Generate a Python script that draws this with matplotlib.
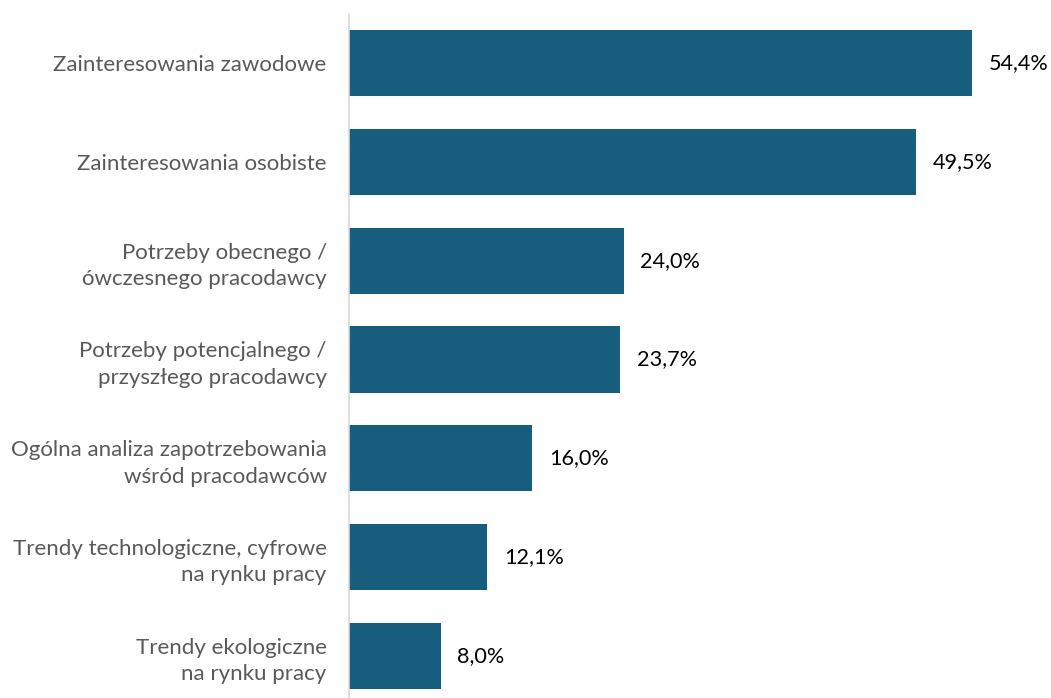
import matplotlib
matplotlib.use("Agg")
import matplotlib.pyplot as plt

categories = [
    "Zainteresowania zawodowe",
    "Zainteresowania osobiste",
    "Potrzeby obecnego /\nówczesnego pracodawcy",
    "Potrzeby potencjalnego /\nprzyszłego pracodawcy",
    "Ogólna analiza zapotrzebowania\nwśród pracodawców",
    "Trendy technologiczne, cyfrowe\nna rynku pracy",
    "Trendy ekologiczne\nna rynku pracy",
]
values = [54.4, 49.5, 24.0, 23.7, 16.0, 12.1, 8.0]
value_labels = ["54,4%", "49,5%", "24,0%", "23,7%", "16,0%", "12,1%", "8,0%"]

plt.rcParams['font.family'] = ['Lato', 'DejaVu Sans']

fig = plt.figure(figsize=(10.51, 6.98), dpi=100)
ax = fig.add_axes([0.332, -0.01, 0.6537, 0.99])

pos = list(range(len(categories)))
ax.barh(pos, values, height=0.67, color="#175d7e")

for p, v, lab in zip(pos, values, value_labels):
    ax.annotate(lab, (v, p), xytext=(12, 0), textcoords="offset points",
                va="center", ha="left", fontsize=15.6, color="#000000")

ax.set_xlim(0, 60)
ax.set_ylim(6.5, -0.5)
ax.set_yticks(pos)
ax.set_yticklabels(categories, fontsize=16, color="#595959", linespacing=1.4)
ax.tick_params(axis="y", length=0, pad=16)
ax.set_xticks([])

for s in ["top", "right", "bottom"]:
    ax.spines[s].set_visible(False)
ax.spines["left"].set_color("#d9d9d9")
ax.spines["left"].set_linewidth(1.2)

fig.savefig("out.png", dpi=100)
